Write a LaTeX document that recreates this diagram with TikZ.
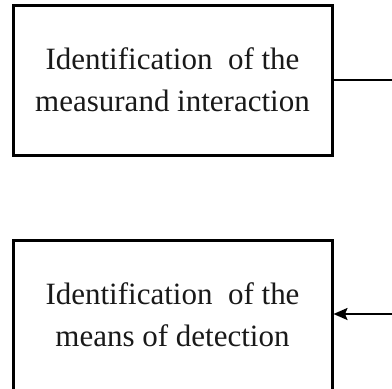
\documentclass[tikz,border=0pt]{standalone}
\usepackage{fontspec}
\setmainfont{Liberation Serif}
\usetikzlibrary{arrows.meta}
\tikzset{
  stagebox/.style={draw=black, line width=3pt, rectangle, inner sep=0pt,
    minimum width=319pt, align=center,
    font=\fontsize{31}{42}\selectfont, text=black!90},
  link/.style={draw=black, line width=2.2pt},
}
\begin{document}
\begin{tikzpicture}[x=1pt,y=-1pt]
  \useasboundingbox (0,0) rectangle (392,389);
  \node[stagebox, minimum height=150pt] (interaction) at (172.5,80)
    {Identification~~of the\\measurand interaction};
  \node[stagebox, minimum height=150pt] (detection) at (172.5,315)
    {Identification~~of the\\means of detection};
  \coordinate (outA) at (392,80);
  \coordinate (inB) at (392,314);
  \draw[link] (interaction.east |- outA) -- (outA);
  \draw[link, -{Stealth[length=14pt,width=12pt,inset=2.5pt]}] (inB) -- (detection.east |- inB);
\end{tikzpicture}
\end{document}
